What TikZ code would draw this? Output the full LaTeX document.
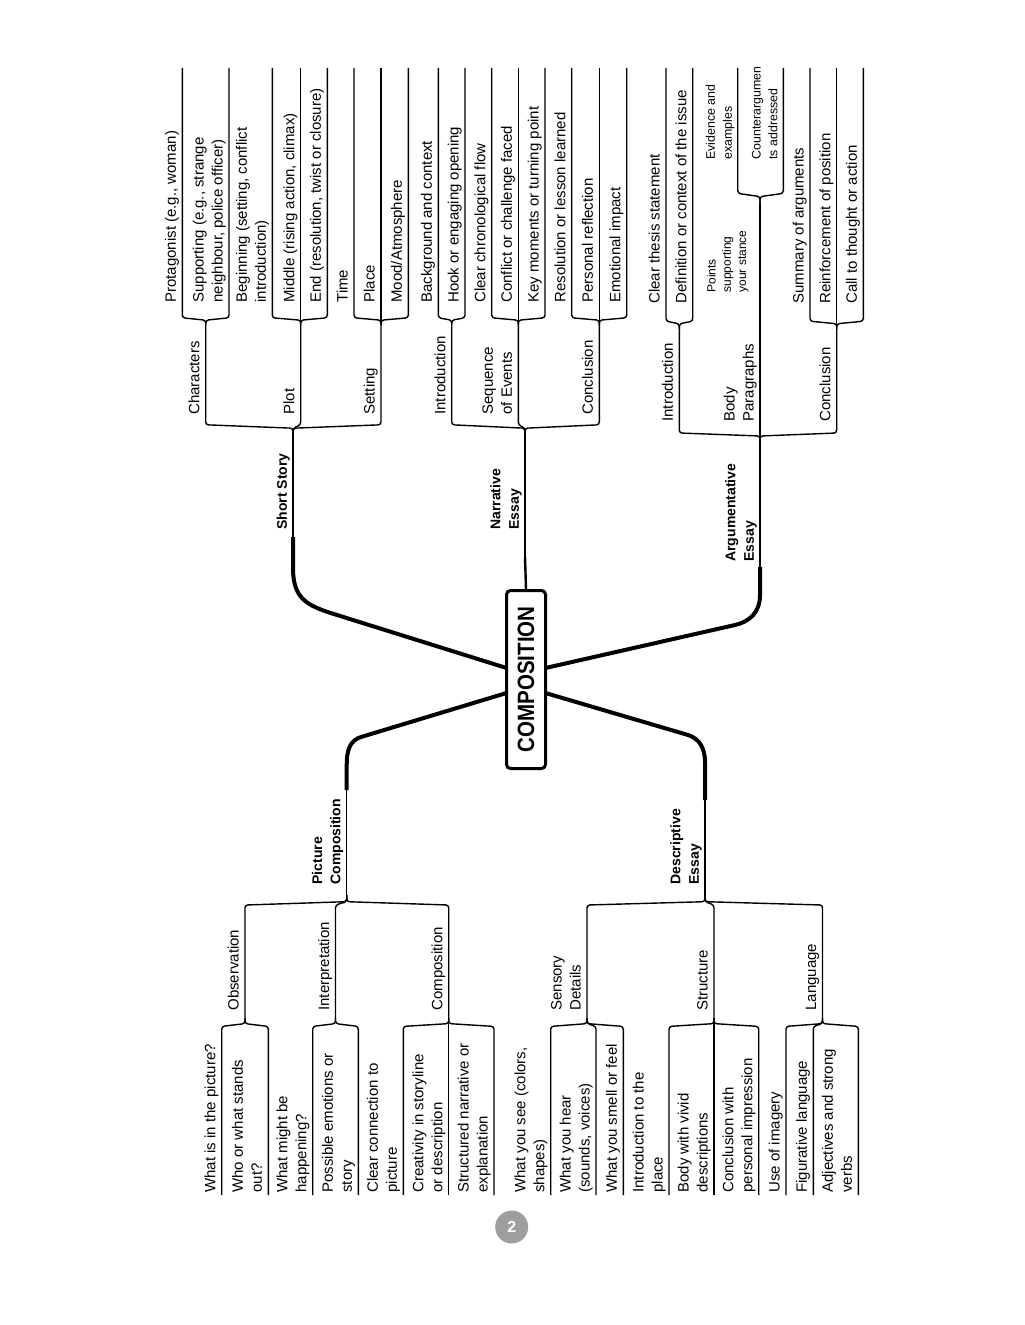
\documentclass[tikz,border=0pt]{standalone}
\usepackage{fontspec}
\setmainfont{Liberation Sans}
\newfontfamily\rootfont{Liberation Sans}[FakeStretch=0.87]
\definecolor{pgray}{RGB}{158,158,158}
\newcommand\leafline[5]{\draw[ln] (#1,#2) -- (#1,#3) -- (#1,{#3+0.4*(#5-#3)}) -- (#4,{#5-0.4*(#5-#3)}) -- (#4,#5);}
\newcommand\txt[4][lab]{\node[#1] (#2) at #3 {#4\strut};}
\begin{document}
\begin{tikzpicture}[x=0.5pt,y=-0.5pt,
 ln/.style={line width=0.7pt, rounded corners=1.4pt},
 thk/.style={line width=2pt},
 lab/.style={rotate=90, anchor=south west, inner sep=0pt, align=left, font=\fontsize{7.5}{9.5}\selectfont},
 slab/.style={lab, font=\fontsize{6.2}{8.4}\selectfont},
 xslab/.style={lab, font=\fontsize{6}{7.6}\selectfont},
 blab/.style={lab, font=\fontsize{7}{9.2}\selectfont\bfseries},
 rootbox/.style={rotate=90, draw, line width=1.5pt, rounded corners=2pt, fill=white, minimum width=89pt, minimum height=19.5pt, inner sep=0pt, font=\rootfont\bfseries\fontsize{11.8}{12}\selectfont},
 pagenum/.style={circle, fill=pgray, minimum size=16.5pt, inner sep=0pt, text=white, font=\bfseries\fontsize{8}{8}\selectfont}
]
\fill[white] (0,0) rectangle (1024,1325);
\useasboundingbox (0,0) rectangle (1024,1325);

% ---------- Short Story ----------
\foreach \x in {182.3,229} {\leafline{\x}{68}{313}{205.7}{325}}
\foreach \x in {272.3,300.7,327.3} {\leafline{\x}{68}{313}{300.7}{325}}
\foreach \x in {354,381,408.3} {\leafline{\x}{68}{313}{381}{325}}
\foreach \x in {205.7,300.7,381} {\leafline{\x}{325}{418}{293}{435}}
% ---------- Narrative Essay ----------
\foreach \x in {438.3,465} {\leafline{\x}{68}{313}{451.7}{325}}
\foreach \x in {491.7,518.3,545} {\leafline{\x}{68}{313}{518.3}{325}}
\foreach \x in {571.7,599.3,626.7} {\leafline{\x}{68}{313}{599.3}{325}}
\foreach \x in {451.7,518.3,599.3} {\leafline{\x}{325}{418}{525}{435}}
% ---------- Argumentative Essay ----------
\foreach \x in {666,692.7} {\leafline{\x}{68}{316}{679.3}{329}}
\foreach \x in {737.7,783.3} {\leafline{\x}{68}{187}{760}{203}}
\foreach \x in {810,836.7,863.3} {\leafline{\x}{68}{316}{836.7}{329}}
\foreach \x in {679.3,836.7} {\leafline{\x}{329}{427}{760}{442}}
% ---------- Picture Composition ----------
\foreach \x in {221.7,268.3} {\leafline{\x}{1195}{1032}{245}{1018}}
\foreach \x in {312.7,358.3} {\leafline{\x}{1195}{1032}{335.5}{1018}}
\foreach \x in {403.3,448.7,494} {\leafline{\x}{1195}{1032}{448.7}{1018}}
\foreach \x in {245,335.5,448.7} {\leafline{\x}{1018}{911.7}{346.7}{895}}
% ---------- Descriptive Essay ----------
\foreach \x in {550.7,596,623.3} {\leafline{\x}{1195}{1032}{587}{1018}}
\foreach \x in {669,714,758.7} {\leafline{\x}{1195}{1032}{714}{1018}}
\foreach \x in {786,813.3,858.3} {\leafline{\x}{1195}{1032}{822.5}{1018}}
\foreach \x in {587,714,822.5} {\leafline{\x}{1018}{911.7}{705}{895}}

% ---------- stems ----------
\coordinate (ssTip) at (293,435); \coordinate (ssK) at (293,537);
\coordinate (neTip) at (525,435); \coordinate (neK) at (525,557);
\coordinate (ptsTip) at (760,203); \coordinate (aeK) at (760,567);
\coordinate (pcTip) at (346.7,895); \coordinate (pcK) at (346.7,790);
\coordinate (deTip) at (705,895); \coordinate (deK) at (705,800);
\draw[ln] (ssTip) -- (ssK);
\draw[ln] (neTip) -- (neK);
\draw[ln] (ptsTip) -- (aeK);
\draw[ln] (pcTip) -- (pcK);
\draw[ln] (deTip) -- (deK);

\coordinate (rUL) at (506.5,668); \coordinate (rLL) at (506.5,693);
\coordinate (rUR) at (545.5,668); \coordinate (rLR) at (545.5,693);
\draw[thk] (ssK) -- (293,568) .. controls (293,600) and (308,606) .. (337,615) -- (rUL);
\draw[thk] (rLL) -- (361,737) .. controls (350,740.4) and (346.7,750) .. (346.7,765) -- (pcK);
\draw[thk] (rUR) -- (735,625) .. controls (750,621.6) and (760,612) .. (760,595) -- (aeK);
\draw[thk] (rLR) -- (688,735) .. controls (699,738.3) and (705,748) .. (705,762) -- (deK);

\node[rootbox] (root) at (526,679.5) {COMPOSITION};
\draw[line width=1.2pt] (neK) -- (root.east);

% ---------- right leaves ----------
\txt{l1}{(182,303)}{Protagonist (e.g., woman)}
\txt{l2}{(228.7,303)}{Supporting (e.g., strange\\neighbour, police officer)}
\txt{l3}{(272,303)}{Beginning (setting, conflict\\introduction)}
\txt{l4}{(300.4,303)}{Middle (rising action, climax)}
\txt{l5}{(327,303)}{End (resolution, twist or closure)}
\txt{l6}{(353.7,303)}{Time}
\txt{l7}{(380.7,303)}{Place}
\txt{l8}{(408,303)}{Mood/Atmosphere}
\txt{l9}{(438,303)}{Background and context}
\txt{l10}{(464.7,303)}{Hook or engaging opening}
\txt{l11}{(491.4,303)}{Clear chronological flow}
\txt{l12}{(518,303)}{Conflict or challenge faced}
\txt{l13}{(544.7,303)}{Key moments or turning point}
\txt{l14}{(571.4,303)}{Resolution or lesson learned}
\txt{l15}{(599,303)}{Personal reflection}
\txt{l16}{(626.4,303)}{Emotional impact}
\txt{l17}{(665.7,304)}{Clear thesis statement}
\txt{l18}{(692.4,304)}{Definition or context of the issue}
\txt[slab]{l19}{(737.2,160)}{Evidence and\\examples}
\txt[slab]{l20}{(782.8,160)}{Counterargumen\\ts addressed}
\txt{l21}{(809.7,304)}{Summary of arguments}
\txt{l22}{(836.4,304)}{Reinforcement of position}
\txt{l23}{(863,304)}{Call to thought or action}
% ---------- right labels ----------
\txt{chars}{(205.4,415)}{Characters}
\txt{plot}{(300.4,415)}{Plot}
\txt{sett}{(380.7,415)}{Setting}
\txt{nint}{(451.4,415)}{Introduction}
\txt{nseq}{(518,415)}{Sequence\\of Events}
\txt{ncon}{(599,415)}{Conclusion}
\txt{aint}{(679,422)}{Introduction}
\txt{abod}{(759.7,422)}{Body\\Paragraphs}
\txt{acon}{(836.4,422)}{Conclusion}
\txt[xslab]{pts}{(751,293)}{Points\\supporting\\your stance}
\txt[blab]{ss}{(292.7,530)}{Short Story}
\txt[blab]{ne}{(524.7,530)}{Narrative\\Essay}
\txt[blab]{ae}{(759.7,562)}{Argumentative\\Essay}
% ---------- left leaves ----------
\txt{p1}{(221.4,1193)}{What is in the picture?}
\txt{p2}{(268,1193)}{Who or what stands\\out?}
\txt{p3}{(312.4,1193)}{What might be\\happening?}
\txt{p4}{(358,1193)}{Possible emotions or\\story}
\txt{p5}{(403,1193)}{Clear connection to\\picture}
\txt{p6}{(448.4,1193)}{Creativity in storyline\\or description}
\txt{p7}{(493.7,1193)}{Structured narrative or\\explanation}
\txt{d1}{(550.4,1193)}{What you see (colors,\\shapes)}
\txt{d2}{(595.7,1193)}{What you hear\\(sounds, voices)}
\txt{d3}{(623,1193)}{What you smell or feel}
\txt{d4}{(668.7,1193)}{Introduction to the\\place}
\txt{d5}{(713.7,1193)}{Body with vivid\\descriptions}
\txt{d6}{(758.4,1193)}{Conclusion with\\personal impression}
\txt{d7}{(785.7,1193)}{Use of imagery}
\txt{d8}{(813,1193)}{Figurative language}
\txt{d9}{(858,1193)}{Adjectives and strong\\verbs}
% ---------- left labels ----------
\txt{obs}{(244.7,1011)}{Observation}
\txt{intp}{(335.2,1011)}{Interpretation}
\txt{cmp}{(448.4,1011)}{Composition}
\txt{sen}{(586.7,1011)}{Sensory\\Details}
\txt{strc}{(713.7,1011)}{Structure}
\txt{lang}{(822.2,1011)}{Language}
\txt[blab]{pc}{(346.4,885)}{Picture\\Composition}
\txt[blab]{de}{(704.7,885)}{Descriptive\\Essay}

\node[pagenum] (pg) at (511.7,1227) {2};
\end{tikzpicture}
\end{document}
